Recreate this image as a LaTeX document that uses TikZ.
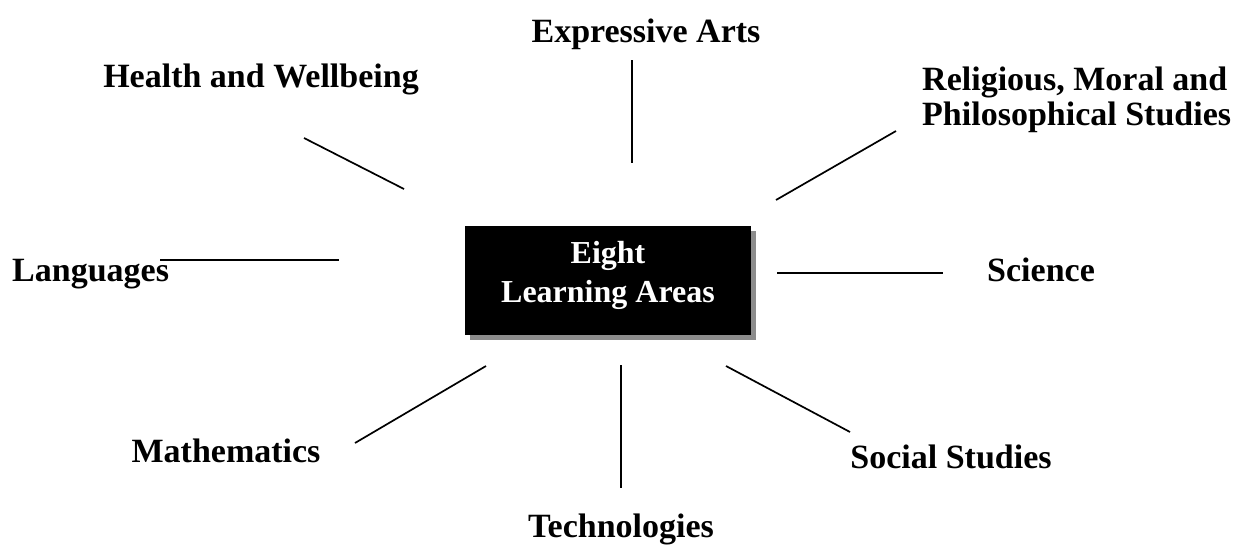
\documentclass[tikz,border=0pt]{standalone}
\usepackage{fontspec}
\setmainfont{Liberation Serif}
\begin{document}
\begin{tikzpicture}[x=1pt,y=-1pt,
  lbl/.style={font=\fontsize{34}{36}\selectfont\bfseries, inner sep=0pt, anchor=base},
  spoke/.style={line width=1.7pt, black},
  box/.style={fill=black, draw=none, minimum width=286pt, minimum height=109pt, inner sep=0pt,
    text=white, align=center, text depth=17pt, font=\fontsize{32}{39}\selectfont\bfseries}]
\useasboundingbox (0,0) rectangle (1245,544);
% shadow and box
\fill[gray!90] (470,231) rectangle (756,340);
\node[box] (center) at (608,280.5) {Eight\\Learning Areas};
% labels
\node[lbl] (expr) at (646,42) {Expressive Arts};
\node[lbl] (health) at (261,87) {Health and Wellbeing};
\node[lbl, anchor=base west, align=left, font=\fontsize{34}{35}\selectfont\bfseries] (rel) at (922,125) {Religious, Moral and\\Philosophical Studies};
\node[lbl, anchor=base west] (lang) at (12,281) {Languages};
\node[lbl, anchor=base west] (sci) at (987,281) {Science};
\node[lbl] (math) at (226,462) {Mathematics};
\node[lbl] (soc) at (951,468) {Social Studies};
\node[lbl] (tech) at (621,537) {Technologies};
% spoke end points
\coordinate (h1) at (304,138); \coordinate (h2) at (404,189);
\coordinate (e1) at (632,60);  \coordinate (e2) at (632,163);
\coordinate (r1) at (896,131); \coordinate (r2) at (776,200);
\coordinate (l1) at (160,260); \coordinate (l2) at (339,260);
\coordinate (s1) at (777,273); \coordinate (s2) at (943,273);
\coordinate (m1) at (355,443); \coordinate (m2) at (486,366);
\coordinate (t1) at (621,365); \coordinate (t2) at (621,488);
\coordinate (o1) at (726,366); \coordinate (o2) at (850,432);
\draw[spoke] (h1) -- (h2);
\draw[spoke] (e1) -- (e2);
\draw[spoke] (r1) -- (r2);
\draw[spoke] (l1) -- (l2);
\draw[spoke] (s1) -- (s2);
\draw[spoke] (m1) -- (m2);
\draw[spoke] (t1) -- (t2);
\draw[spoke] (o1) -- (o2);
\end{tikzpicture}
\end{document}
